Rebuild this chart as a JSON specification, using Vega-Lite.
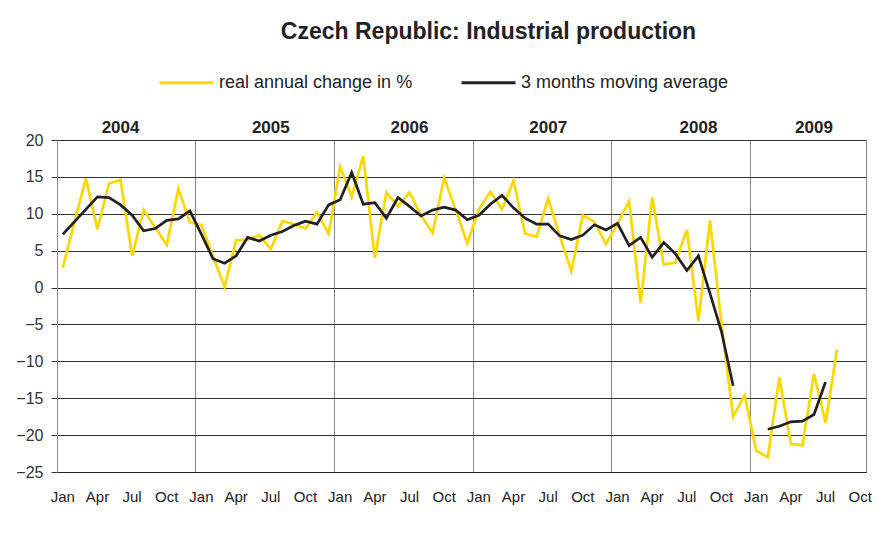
{
  "$schema": "https://vega.github.io/schema/vega-lite/v6.json",
  "width": 809,
  "height": 332,
  "autosize": {"type": "none"},
  "padding": {"left": 57, "top": 140, "right": 22, "bottom": 67},
  "background": "white",
  "config": {"font": "Liberation Sans", "view": {"stroke": "#888", "strokeWidth": 1}},
  "title": {"text": "Czech Republic: Industrial production", "fontSize": 23, "fontWeight": "bold", "color": "#222", "anchor": "middle", "dx": 27, "offset": 10},
  "data": {"values": [
    {"month": "2004-01", "series": "real annual change in %", "value": 2.7},
    {"month": "2004-02", "series": "real annual change in %", "value": 8.8},
    {"month": "2004-03", "series": "real annual change in %", "value": 14.8},
    {"month": "2004-04", "series": "real annual change in %", "value": 7.9},
    {"month": "2004-05", "series": "real annual change in %", "value": 14.1},
    {"month": "2004-06", "series": "real annual change in %", "value": 14.6},
    {"month": "2004-07", "series": "real annual change in %", "value": 4.3},
    {"month": "2004-08", "series": "real annual change in %", "value": 10.5},
    {"month": "2004-09", "series": "real annual change in %", "value": 8.1},
    {"month": "2004-10", "series": "real annual change in %", "value": 5.8},
    {"month": "2004-11", "series": "real annual change in %", "value": 13.4},
    {"month": "2004-12", "series": "real annual change in %", "value": 8.8},
    {"month": "2005-01", "series": "real annual change in %", "value": 8.5},
    {"month": "2005-02", "series": "real annual change in %", "value": 4.2},
    {"month": "2005-03", "series": "real annual change in %", "value": 0.1},
    {"month": "2005-04", "series": "real annual change in %", "value": 6.4},
    {"month": "2005-05", "series": "real annual change in %", "value": 6.5},
    {"month": "2005-06", "series": "real annual change in %", "value": 7.1},
    {"month": "2005-07", "series": "real annual change in %", "value": 5.2},
    {"month": "2005-08", "series": "real annual change in %", "value": 9.0},
    {"month": "2005-09", "series": "real annual change in %", "value": 8.6},
    {"month": "2005-10", "series": "real annual change in %", "value": 8.0},
    {"month": "2005-11", "series": "real annual change in %", "value": 10.2},
    {"month": "2005-12", "series": "real annual change in %", "value": 7.3},
    {"month": "2006-01", "series": "real annual change in %", "value": 16.4},
    {"month": "2006-02", "series": "real annual change in %", "value": 12.3},
    {"month": "2006-03", "series": "real annual change in %", "value": 17.8},
    {"month": "2006-04", "series": "real annual change in %", "value": 4.0},
    {"month": "2006-05", "series": "real annual change in %", "value": 12.9},
    {"month": "2006-06", "series": "real annual change in %", "value": 11.0},
    {"month": "2006-07", "series": "real annual change in %", "value": 12.9},
    {"month": "2006-08", "series": "real annual change in %", "value": 9.8},
    {"month": "2006-09", "series": "real annual change in %", "value": 7.4},
    {"month": "2006-10", "series": "real annual change in %", "value": 14.9},
    {"month": "2006-11", "series": "real annual change in %", "value": 10.5},
    {"month": "2006-12", "series": "real annual change in %", "value": 6.0},
    {"month": "2007-01", "series": "real annual change in %", "value": 10.6},
    {"month": "2007-02", "series": "real annual change in %", "value": 13.0},
    {"month": "2007-03", "series": "real annual change in %", "value": 10.6},
    {"month": "2007-04", "series": "real annual change in %", "value": 14.5},
    {"month": "2007-05", "series": "real annual change in %", "value": 7.3},
    {"month": "2007-06", "series": "real annual change in %", "value": 6.9},
    {"month": "2007-07", "series": "real annual change in %", "value": 12.1},
    {"month": "2007-08", "series": "real annual change in %", "value": 7.0},
    {"month": "2007-09", "series": "real annual change in %", "value": 2.2},
    {"month": "2007-10", "series": "real annual change in %", "value": 9.8},
    {"month": "2007-11", "series": "real annual change in %", "value": 8.9},
    {"month": "2007-12", "series": "real annual change in %", "value": 5.9},
    {"month": "2008-01", "series": "real annual change in %", "value": 8.6},
    {"month": "2008-02", "series": "real annual change in %", "value": 11.7},
    {"month": "2008-03", "series": "real annual change in %", "value": -2.1},
    {"month": "2008-04", "series": "real annual change in %", "value": 12.2},
    {"month": "2008-05", "series": "real annual change in %", "value": 3.1},
    {"month": "2008-06", "series": "real annual change in %", "value": 3.4},
    {"month": "2008-07", "series": "real annual change in %", "value": 7.8},
    {"month": "2008-08", "series": "real annual change in %", "value": -4.5},
    {"month": "2008-09", "series": "real annual change in %", "value": 9.1},
    {"month": "2008-10", "series": "real annual change in %", "value": -5.0},
    {"month": "2008-11", "series": "real annual change in %", "value": -17.5},
    {"month": "2008-12", "series": "real annual change in %", "value": -14.6},
    {"month": "2009-01", "series": "real annual change in %", "value": -22.1},
    {"month": "2009-02", "series": "real annual change in %", "value": -23.0},
    {"month": "2009-03", "series": "real annual change in %", "value": -12.2},
    {"month": "2009-04", "series": "real annual change in %", "value": -21.2},
    {"month": "2009-05", "series": "real annual change in %", "value": -21.4},
    {"month": "2009-06", "series": "real annual change in %", "value": -11.7},
    {"month": "2009-07", "series": "real annual change in %", "value": -18.3},
    {"month": "2009-08", "series": "real annual change in %", "value": -8.4},
    {"month": "2004-01", "series": "3 months moving average", "value": 7.2},
    {"month": "2004-02", "series": "3 months moving average", "value": 8.9},
    {"month": "2004-03", "series": "3 months moving average", "value": 10.6},
    {"month": "2004-04", "series": "3 months moving average", "value": 12.3},
    {"month": "2004-05", "series": "3 months moving average", "value": 12.2},
    {"month": "2004-06", "series": "3 months moving average", "value": 11.2},
    {"month": "2004-07", "series": "3 months moving average", "value": 9.8},
    {"month": "2004-08", "series": "3 months moving average", "value": 7.7},
    {"month": "2004-09", "series": "3 months moving average", "value": 8.0},
    {"month": "2004-10", "series": "3 months moving average", "value": 9.1},
    {"month": "2004-11", "series": "3 months moving average", "value": 9.3},
    {"month": "2004-12", "series": "3 months moving average", "value": 10.4},
    {"month": "2005-01", "series": "3 months moving average", "value": 7.2},
    {"month": "2005-02", "series": "3 months moving average", "value": 3.9},
    {"month": "2005-03", "series": "3 months moving average", "value": 3.3},
    {"month": "2005-04", "series": "3 months moving average", "value": 4.3},
    {"month": "2005-05", "series": "3 months moving average", "value": 6.8},
    {"month": "2005-06", "series": "3 months moving average", "value": 6.3},
    {"month": "2005-07", "series": "3 months moving average", "value": 7.1},
    {"month": "2005-08", "series": "3 months moving average", "value": 7.6},
    {"month": "2005-09", "series": "3 months moving average", "value": 8.4},
    {"month": "2005-10", "series": "3 months moving average", "value": 9.0},
    {"month": "2005-11", "series": "3 months moving average", "value": 8.6},
    {"month": "2005-12", "series": "3 months moving average", "value": 11.2},
    {"month": "2006-01", "series": "3 months moving average", "value": 11.9},
    {"month": "2006-02", "series": "3 months moving average", "value": 15.6},
    {"month": "2006-03", "series": "3 months moving average", "value": 11.3},
    {"month": "2006-04", "series": "3 months moving average", "value": 11.5},
    {"month": "2006-05", "series": "3 months moving average", "value": 9.4},
    {"month": "2006-06", "series": "3 months moving average", "value": 12.2},
    {"month": "2006-07", "series": "3 months moving average", "value": 11.0},
    {"month": "2006-08", "series": "3 months moving average", "value": 9.7},
    {"month": "2006-09", "series": "3 months moving average", "value": 10.5},
    {"month": "2006-10", "series": "3 months moving average", "value": 10.9},
    {"month": "2006-11", "series": "3 months moving average", "value": 10.5},
    {"month": "2006-12", "series": "3 months moving average", "value": 9.2},
    {"month": "2007-01", "series": "3 months moving average", "value": 9.8},
    {"month": "2007-02", "series": "3 months moving average", "value": 11.3},
    {"month": "2007-03", "series": "3 months moving average", "value": 12.5},
    {"month": "2007-04", "series": "3 months moving average", "value": 10.8},
    {"month": "2007-05", "series": "3 months moving average", "value": 9.4},
    {"month": "2007-06", "series": "3 months moving average", "value": 8.6},
    {"month": "2007-07", "series": "3 months moving average", "value": 8.6},
    {"month": "2007-08", "series": "3 months moving average", "value": 7.0},
    {"month": "2007-09", "series": "3 months moving average", "value": 6.5},
    {"month": "2007-10", "series": "3 months moving average", "value": 7.1},
    {"month": "2007-11", "series": "3 months moving average", "value": 8.5},
    {"month": "2007-12", "series": "3 months moving average", "value": 7.8},
    {"month": "2008-01", "series": "3 months moving average", "value": 8.7},
    {"month": "2008-02", "series": "3 months moving average", "value": 5.7},
    {"month": "2008-03", "series": "3 months moving average", "value": 6.8},
    {"month": "2008-04", "series": "3 months moving average", "value": 4.1},
    {"month": "2008-05", "series": "3 months moving average", "value": 6.1},
    {"month": "2008-06", "series": "3 months moving average", "value": 4.6},
    {"month": "2008-07", "series": "3 months moving average", "value": 2.3},
    {"month": "2008-08", "series": "3 months moving average", "value": 4.3},
    {"month": "2008-09", "series": "3 months moving average", "value": -0.8},
    {"month": "2008-10", "series": "3 months moving average", "value": -6.0},
    {"month": "2008-11", "series": "3 months moving average", "value": -13.3},
    {"month": "2008-12", "series": "3 months moving average", "value": null},
    {"month": "2009-01", "series": "3 months moving average", "value": null},
    {"month": "2009-02", "series": "3 months moving average", "value": -19.2},
    {"month": "2009-03", "series": "3 months moving average", "value": -18.8},
    {"month": "2009-04", "series": "3 months moving average", "value": -18.2},
    {"month": "2009-05", "series": "3 months moving average", "value": -18.1},
    {"month": "2009-06", "series": "3 months moving average", "value": -17.2},
    {"month": "2009-07", "series": "3 months moving average", "value": -12.8}
  ]},
  "encoding": {
    "color": {
      "field": "series", "type": "nominal",
      "scale": {"domain": ["real annual change in %", "3 months moving average"], "range": ["#FFD700", "#231F20"]},
      "legend": {"title": null, "orient": "none", "legendX": 101, "legendY": -86, "direction": "horizontal", "symbolType": "stroke", "symbolSize": 2916, "symbolStrokeWidth": 3, "labelFontSize": 18, "labelColor": "#222", "labelOffset": 4, "columnPadding": 42, "padding": 0, "labelLimit": 500}
    }
  },
  "layer": [
    {
      "transform": [{"filter": "datum.series == 'real annual change in %'"}],
      "mark": {"type": "line", "strokeWidth": 2.7, "invalid": "break-paths-show-domains"},
      "encoding": {
        "x": {
          "field": "month", "type": "ordinal", "bandPosition": 0.5,
          "scale": {"type": "band", "paddingInner": 0, "paddingOuter": 0, "domain": ["2004-01","2004-02","2004-03","2004-04","2004-05","2004-06","2004-07","2004-08","2004-09","2004-10","2004-11","2004-12","2005-01","2005-02","2005-03","2005-04","2005-05","2005-06","2005-07","2005-08","2005-09","2005-10","2005-11","2005-12","2006-01","2006-02","2006-03","2006-04","2006-05","2006-06","2006-07","2006-08","2006-09","2006-10","2006-11","2006-12","2007-01","2007-02","2007-03","2007-04","2007-05","2007-06","2007-07","2007-08","2007-09","2007-10","2007-11","2007-12","2008-01","2008-02","2008-03","2008-04","2008-05","2008-06","2008-07","2008-08","2008-09","2008-10","2008-11","2008-12","2009-01","2009-02","2009-03","2009-04","2009-05","2009-06","2009-07","2009-08","2009-09","2009-10"]},
          "axis": {
            "orient": "bottom", "title": null,
            "values": ["2004-01","2004-04","2004-07","2004-10","2005-01","2005-04","2005-07","2005-10","2006-01","2006-04","2006-07","2006-10","2007-01","2007-04","2007-07","2007-10","2008-01","2008-04","2008-07","2008-10","2009-01","2009-04","2009-07","2009-10"],
            "bandPosition": 0, "labelOffset": 0, "labelAngle": 0, "labelOverlap": false,
            "labelExpr": "slice(datum.value,5)=='01' ? 'Jan' : slice(datum.value,5)=='04' ? 'Apr' : slice(datum.value,5)=='07' ? 'Jul' : 'Oct'",
            "labelFontSize": 15, "labelColor": "#222", "labelPadding": 17,
            "ticks": false, "tickSize": 0, "domainColor": "#222", "domainWidth": 1.2,
            "grid": true, "gridColor": "#888", "gridWidth": 1,
            "gridOpacity": {"condition": {"test": "slice(datum.value,5)=='01' && datum.value != '2004-01'", "value": 1}, "value": 0}
          }
        },
        "y": {
          "field": "value", "type": "quantitative",
          "scale": {"domain": [-25, 20], "nice": false, "zero": false},
          "axis": {"title": null, "values": [-25,-20,-15,-10,-5,0,5,10,15,20], "labelFontSize": 16, "labelColor": "#333", "labelPadding": 8, "tickSize": 6, "tickColor": "#333", "domainColor": "#888", "grid": true, "gridColor": "#333", "gridWidth": 1}
        }
      }
    },
    {
      "transform": [{"filter": "datum.series == '3 months moving average'"}],
      "mark": {"type": "line", "strokeWidth": 2.7, "invalid": "break-paths-show-domains"},
      "encoding": {
        "x": {
          "field": "month", "type": "ordinal", "bandPosition": 0.5,
          "axis": {
            "orient": "top", "title": null,
            "values": ["2004-06","2005-07","2006-07","2007-07","2008-08","2009-06"],
            "labelExpr": "slice(datum.value,0,4)", "labelAngle": 0, "labelOverlap": false,
            "labelFontSize": 17, "labelFontWeight": "bold", "labelColor": "#222", "labelBaseline": "alphabetic", "labelPadding": 8,
            "ticks": false, "tickSize": 0, "domain": false, "grid": false
          }
        },
        "y": {"field": "value", "type": "quantitative", "axis": null}
      }
    }
  ],
  "resolve": {"axis": {"x": "independent", "y": "independent"}}
}
